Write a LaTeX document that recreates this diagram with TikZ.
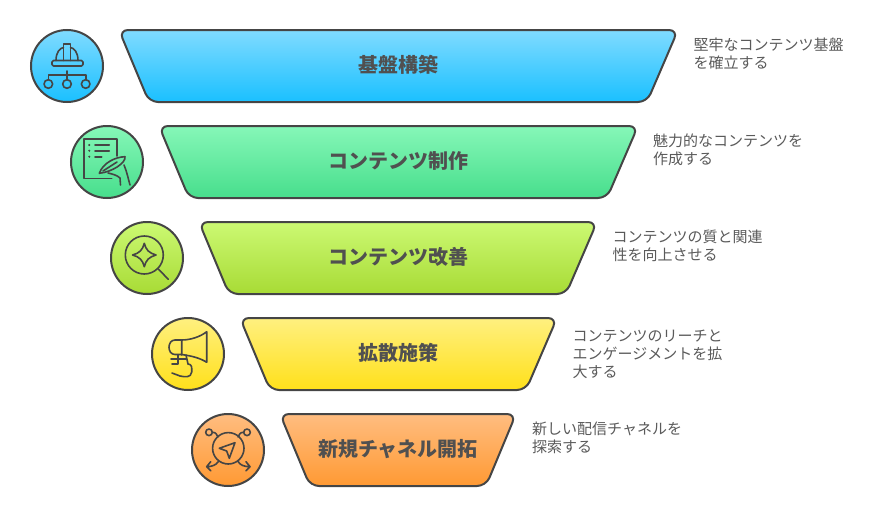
\documentclass[tikz,border=0pt]{standalone}
\usepackage{fontspec}
\newfontfamily\cjk{Noto Sans CJK JP}
\definecolor{ink}{HTML}{454545}
\definecolor{titlegray}{HTML}{505050}
\definecolor{notegray}{HTML}{5A5A5A}
\tikzset{
  band/.style={draw=ink, line width=2pt, rounded corners=9pt},
  badge/.style={circle, draw=ink, line width=2pt, minimum size=72pt, inner sep=0pt},
  title/.style={text=titlegray, font=\cjk\bfseries\fontsize{20}{22}\selectfont},
  note/.style={anchor=west, align=left, text=notegray, inner sep=0pt, font=\cjk\fontsize{15}{18}\selectfont},
  glyph/.style={draw=ink, line width=1.6pt, line cap=round, line join=round},
}
\begin{document}
\begin{tikzpicture}[x=1pt, y=-1pt]
\useasboundingbox (0, 0) rectangle (883, 506);
% bands
\draw[band, top color={rgb,255:red,128;green,219;blue,255}, bottom color={rgb,255:red,26;green,192;blue,255}] (119, 30) -- (678, 30) -- (647, 102) -- (149, 102) -- cycle;
\draw[band, top color={rgb,255:red,134;green,247;blue,184}, bottom color={rgb,255:red,71;green,222;blue,140}] (159, 126) -- (638, 126) -- (607, 198) -- (189, 198) -- cycle;
\draw[band, top color={rgb,255:red,204;green,249;blue,115}, bottom color={rgb,255:red,168;green,219;blue,53}] (199, 222) -- (597, 222) -- (566, 294) -- (229, 294) -- cycle;
\draw[band, top color={rgb,255:red,255;green,240;blue,128}, bottom color={rgb,255:red,255;green,224;blue,26}] (240, 318) -- (557, 318) -- (526, 390) -- (270, 390) -- cycle;
\draw[band, top color={rgb,255:red,255;green,189;blue,128}, bottom color={rgb,255:red,255;green,153;blue,51}] (280, 414) -- (516, 414) -- (486, 486) -- (310, 486) -- cycle;
% titles
\node[title] (base) at (398, 65) {基盤構築};
\node[title] (make) at (398, 161) {コンテンツ制作};
\node[title] (improve) at (398, 257) {コンテンツ改善};
\node[title] (spread) at (398, 353) {拡散施策};
\node[title] (channel) at (398, 449) {新規チャネル開拓};
% notes
\node[note] (baseNote) at (693.5, 54) {堅牢なコンテンツ基盤\\を確立する};
\node[note] (makeNote) at (653, 150) {魅力的なコンテンツを\\作成する};
\node[note] (improveNote) at (612.5, 246) {コンテンツの質と関連\\性を向上させる};
\node[note] (spreadNote) at (572.5, 354) {コンテンツのリーチと\\エンゲージメントを拡\\大する};
\node[note] (channelNote) at (532, 438) {新しい配信チャネルを\\探索する};
% badges
\node[badge, top color={rgb,255:red,128;green,219;blue,255}, bottom color={rgb,255:red,26;green,192;blue,255}] (helmet) at (67, 66) {};
\node[badge, top color={rgb,255:red,134;green,247;blue,184}, bottom color={rgb,255:red,71;green,222;blue,140}] (pen) at (107, 162) {};
\node[badge, top color={rgb,255:red,204;green,249;blue,115}, bottom color={rgb,255:red,168;green,219;blue,53}] (lens) at (147, 258) {};
\node[badge, top color={rgb,255:red,255;green,240;blue,128}, bottom color={rgb,255:red,255;green,224;blue,26}] (horn) at (188, 354) {};
\node[badge, top color={rgb,255:red,255;green,189;blue,128}, bottom color={rgb,255:red,255;green,153;blue,51}] (compass) at (228, 450) {};
% helmet and tree
\draw[glyph, rounded corners=1.5pt] (52, 60.5) rectangle (83, 66);
\draw[glyph] (56, 60.5) .. controls (56, 52) and (60, 48) .. (63.5, 47.5) (78, 60.5) .. controls (78, 52) and (74, 48) .. (70.5, 47.5);
\draw[glyph] (63.5, 60.5) -- (63.5, 44) -- (70.5, 44) -- (70.5, 60.5);
\draw[glyph] (67, 71) -- (67, 75) (48.3, 79.7) -- (48.3, 75) -- (85.7, 75) -- (85.7, 79.7) (67, 75) -- (67, 79.7);
\draw[glyph] (48.3, 84) circle (4.3) (67, 84) circle (4.3) (85.7, 84) circle (4.3);
% sheet and hand
\draw[glyph] (111.7, 178.3) -- (84, 178.3) -- (84, 139) -- (116.7, 139) -- (116.7, 156);
\draw[glyph] (95, 145) -- (109.3, 145) (95, 150.7) -- (109.3, 150.7) (95, 156.7) -- (101.7, 156.7);
\filldraw[ink] (89.3, 145) circle (.8) (89.3, 150.7) circle (.8) (89.3, 156.7) circle (.8);
\draw[glyph] (99.3, 173.3) .. controls (103, 163) and (115, 157) .. (125, 156.7) .. controls (126, 163) and (112, 172) .. (99.3, 173.3);
\draw[glyph] (103, 171) -- (117, 162);
\draw[glyph] (108, 173) .. controls (112, 174) and (117, 175) .. (120, 178) -- (120.5, 185);
\draw[glyph] (124, 165) .. controls (127, 172) and (128, 178) .. (130, 185);
% lens and star
\draw[glyph] (144.3, 255) circle (19);
\draw[glyph] (144.3, 243.3) .. controls (146, 250) and (149, 253) .. (156, 255) .. controls (149, 257) and (146, 260) .. (144.3, 266.7) .. controls (142.6, 260) and (139.6, 257) .. (132.6, 255) .. controls (139.6, 253) and (142.6, 250) .. (144.3, 243.3) -- cycle;
\draw[glyph] (158.3, 269) -- (168.3, 279.3);
% megaphone
\draw[glyph] (181.7, 340) .. controls (190, 340) and (200, 337) .. (206.7, 331.7) -- (206.7, 362.3) .. controls (200, 358) and (192, 356) .. (181.7, 354.5);
\draw[glyph] (181.7, 340) -- (181.7, 355) (181.7, 340) -- (175, 340) .. controls (167, 340) and (167, 354.5) .. (175, 354.5) -- (181.7, 354.5);
\draw[glyph] (171, 359) -- (186, 359) (178, 355) -- (178, 364) (186, 355) -- (188, 364) (172, 364) -- (178, 364);
\draw[glyph] (188, 364) .. controls (192, 364) and (192, 368) .. (191.7, 372) .. controls (191, 378) and (185, 377) .. (180, 376) -- (172, 373);
% compass
\draw[glyph] (228.3, 448.3) circle (15.7);
\draw[glyph] (235, 442.7) -- (229.3, 458.3) -- (226.7, 451) -- (219.3, 448.3) -- cycle;
\draw[glyph] (209, 432.3) circle (3.3) (247, 432.3) circle (3.3);
\draw[glyph] (212.3, 432.3) .. controls (216, 432) and (217, 435) .. (218, 437) (243.7, 432.3) .. controls (240, 432) and (239, 435) .. (238, 437);
\draw[glyph] (218.3, 461.7) .. controls (216, 465) and (212, 466.7) .. (206.7, 466.7) (210.7, 461.7) -- (206.7, 466.7) -- (210.7, 470.7);
\draw[glyph] (238.3, 461.7) .. controls (240, 465) and (244, 466.7) .. (250, 466.7) (246, 461.7) -- (250, 466.7) -- (246, 470.7);
\end{tikzpicture}
\end{document}
